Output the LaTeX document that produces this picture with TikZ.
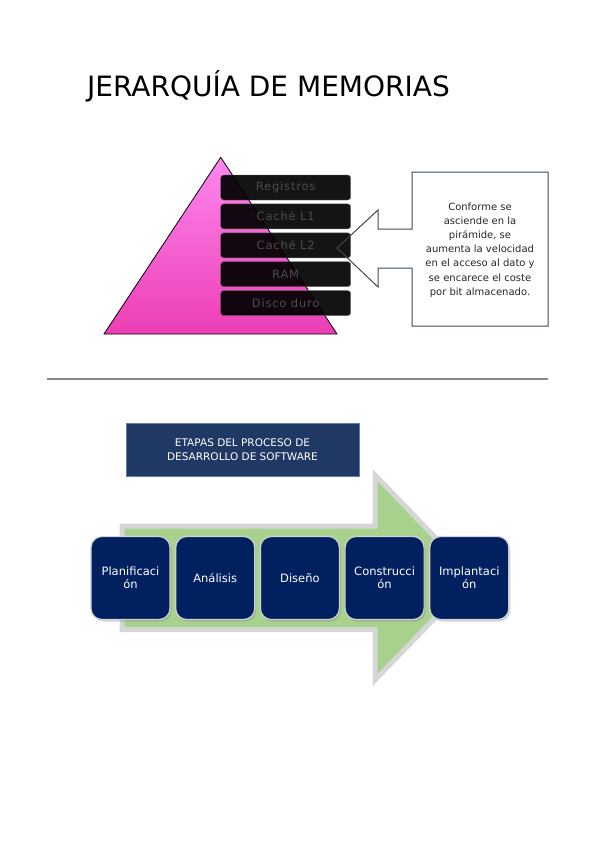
\documentclass[tikz,border=0pt]{standalone}
\usepackage{fontspec}
\setmainfont{DejaVu Sans}
\newfontfamily\widesans[LetterSpace=7]{DejaVu Sans}
\usetikzlibrary{positioning,shadows}
\definecolor{pinktop}{RGB}{255,135,240}
\definecolor{pinkbot}{RGB}{236,62,180}
\definecolor{callline}{RGB}{60,72,90}
\definecolor{navybox}{RGB}{31,56,100}
\definecolor{navyedge}{RGB}{90,125,175}
\definecolor{stagefill}{RGB}{0,32,96}
\definecolor{arrowgreen}{RGB}{169,209,142}
\definecolor{arrowedge}{RGB}{214,214,214}
\definecolor{rulegray}{RGB}{130,138,150}

\begin{document}
\begin{tikzpicture}[x=1pt,y=-1pt,
        level/.style={draw=black!60,fill=black,fill opacity=0.92,text opacity=1,text=black!70,
            rounded corners=3pt,minimum width=130pt,minimum height=25pt,inner sep=0pt,
            font=\widesans\fontsize{11.5}{13}\selectfont},
        stage/.style={draw=white!82!black,line width=1.2pt,fill=stagefill,text=white,
            rounded corners=11pt,minimum width=79pt,minimum height=83pt,text width=77pt,
            align=center,inner sep=0pt,font=\fontsize{11.5}{13}\selectfont,
            drop shadow={shadow xshift=1.5pt,shadow yshift=-2pt,opacity=0.35}}]
        \useasboundingbox (0,0) rectangle (599,848);
        \node[anchor=base west,inner sep=0pt,font=\fontsize{28}{33}\selectfont] (title) at (87,97) {JERARQUÍA DE MEMORIAS};
        % piramide
        \coordinate (apex) at (220.7,157.3);
        \coordinate (baseR) at (337,334);
        \coordinate (baseL) at (104,334);
        \draw[line width=0.8pt,top color=pinktop,bottom color=pinkbot] (apex) -- (baseR) -- (baseL) -- cycle;
        \node[level] (reg) at (285.7,187.5) {Registros};
        \node[level,below=3.5pt of reg] (l1) {Caché L1};
        \node[level,below=3.5pt of l1] (l2) {Caché L2};
        \node[level,below=3.5pt of l2] (ram) {RAM};
        \node[level,below=3.5pt of ram] (disco) {Disco duro};
        % llamada
        \draw[callline,line width=1pt] (412,172) -| (548,326) -| (412,268) -- (378,268) -- (378,287)
            -- (337,248) -- (378,210) -- (378,229) -- (412,229) -- cycle;
        \node[align=center,font=\fontsize{10}{14.2}\selectfont,text=black!85] (nota) at (480,250)
            {Conforme se\\asciende en la\\pirámide, se\\aumenta la velocidad\\en el acceso al dato y\\se encarece el coste\\por bit almacenado.};
        \draw[rulegray,line width=1.5pt] (47,379) -- (548,379);
        % etapas
        \node[draw=navyedge,fill=navybox,text=white,minimum width=233pt,minimum height=53pt,
            align=center,font=\fontsize{10.5}{14.5}\selectfont] (etapas) at (242.5,449.5)
            {ETAPAS DEL PROCESO DE\\DESARROLLO DE SOFTWARE};
        \draw[arrowedge,line width=5pt,fill=arrowgreen] (122,526) -- (375,526) -- (375,475)
            -- (474,577.5) -- (375,680) -- (375,629.5) -- (122,629.5) -- cycle;
        \node[stage] (plan) at (130.5,578) {Planificaci\\ón};
        \node[stage,right=4.5pt of plan] (anal) {Análisis};
        \node[stage,right=4.5pt of anal] (dis) {Diseño};
        \node[stage,right=4.5pt of dis] (cons) {Construcci\\ón};
        \node[stage,right=4.5pt of cons] (impl) {Implantaci\\ón};
    \end{tikzpicture}
\end{document}
